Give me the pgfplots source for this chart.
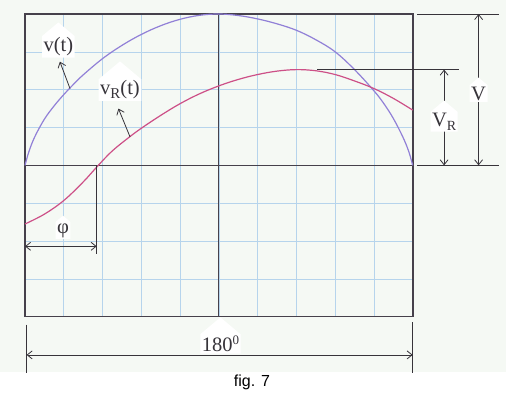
\documentclass[border=0pt]{standalone}
\usepackage{pgfplots}
\pgfplotsset{compat=1.18}
\usepackage{fontspec}
\setmainfont{Liberation Serif}
\newfontfamily\arial{Liberation Sans}
\usetikzlibrary{arrows.meta,shapes.symbols}
\definecolor{paper}{RGB}{245,249,244}
\definecolor{gridblue}{RGB}{182,212,236}
\definecolor{frame}{RGB}{70,65,75}
\definecolor{vcol}{RGB}{145,128,215}
\definecolor{rcol}{RGB}{205,80,135}
\definecolor{ink}{RGB}{55,52,58}
\begin{document}
\begin{tikzpicture}[
  lab/.style={signal, signal to=north, signal pointer angle=100, fill=white, inner sep=1.5pt, text=ink, font=\fontsize{20.5}{20.5}\selectfont},
  dim/.style={ink, line width=0.8pt},
  arr/.style={ink, line width=0.8pt, arrows={Straight Barb[length=5pt,width=8pt]-Straight Barb[length=5pt,width=8pt]}}]
\path[use as bounding box] (0pt,0pt) rectangle (506pt,395pt);
\fill[paper] (0pt,23pt) rectangle (506pt,395pt);
\begin{axis}[at={(25pt,78.3pt)}, anchor=south west, scale only axis,
  width=387.7pt, height=302.7pt,
  xmin=0, xmax=10, ymin=-4, ymax=4,
  xtick={0,1,...,10}, ytick={-4,-3,...,4},
  xticklabels={}, yticklabels={},
  major tick length=0pt,
  grid=major, major grid style={gridblue, line width=0.6pt},
  axis line style={frame, line width=1.6pt},
  clip=false]
\draw[frame, line width=1.1pt] (axis cs:0,0) -- (axis cs:10,0);
\draw[frame, line width=1.1pt] (axis cs:5,-4) -- (axis cs:5,4);
\addplot[vcol, line width=1.2pt, smooth, tension=0.6] coordinates {
 (0,0) (0.1,0.36) (0.25,0.75) (0.5,1.22) (0.75,1.57) (1,1.87) (1.25,2.14) (1.5,2.39)
 (2,2.82) (2.5,3.17) (3,3.46) (3.5,3.69) (4,3.86) (4.5,3.965) (5,4)
 (5.5,3.96) (6,3.87) (6.5,3.74) (7,3.57) (7.5,3.32) (8,3.00) (8.5,2.53)
 (9,1.97) (9.25,1.64) (9.5,1.24) (9.75,0.74) (9.9,0.36) (10,0)};
\addplot[rcol, line width=1.2pt, smooth, tension=0.6] coordinates {
 (0,-1.55) (0.5,-1.29) (1.0,-0.93) (1.5,-0.44) (1.89,0) (2.25,0.38) (2.67,0.73)
 (3,0.98) (3.5,1.32) (4,1.63) (4.5,1.89) (5,2.1) (5.5,2.27) (6,2.40) (6.5,2.49)
 (7,2.53) (7.5,2.50) (8,2.40) (8.5,2.23) (9,2.03) (9.5,1.77) (10,1.46)};
% right dimension lines
\draw[dim] (axis cs:10.12,4) -- (axis cs:12.23,4);
\draw[dim] (axis cs:10.12,0) -- (axis cs:12.23,0);
\draw[dim] (axis cs:7.54,2.53) -- (axis cs:11.2,2.53);
\draw[arr] (axis cs:11.70,4) -- (axis cs:11.70,0);
\draw[arr] (axis cs:10.81,2.53) -- (axis cs:10.81,0);
\node[lab] at (axis cs:11.70,1.9) {V};
\node[lab] at (axis cs:10.81,1.15) {V\raisebox{-0.35ex}{\fontsize{14}{14}\selectfont R}};
% phi
\draw[dim] (axis cs:1.85,0) -- (axis cs:1.85,-2.34);
\draw[arr] (axis cs:0,-2.14) -- (axis cs:1.85,-2.14);
\node[lab] at (axis cs:0.98,-1.72) {φ};
% 180 degrees
\draw[dim] (axis cs:0.04,-4.21) -- (axis cs:0.04,-5.48);
\draw[dim] (axis cs:10,-4.15) -- (axis cs:10,-5.48);
\draw[arr] (axis cs:0.04,-5.01) -- (axis cs:10,-5.01);
\node[lab] at (axis cs:5.04,-4.72) {180\raisebox{0.8ex}{\fontsize{13}{13}\selectfont 0}};
% curve labels
\draw[ink, line width=0.8pt, -{Straight Barb[length=5pt,width=8pt]}] (axis cs:1.16,2.03) -- (axis cs:0.90,2.74);
\node[lab] at (axis cs:0.86,3.13) {v(t)};
\draw[ink, line width=0.8pt, -{Straight Barb[length=5pt,width=8pt]}] (axis cs:2.71,0.75) -- (axis cs:2.41,1.50);
\node[lab] at (axis cs:2.45,1.99) {v\raisebox{-0.35ex}{\fontsize{15}{15}\selectfont R}(t)};
\end{axis}
\node[font=\arial\fontsize{16}{16}\selectfont] at (252pt,13pt) {fig. 7};
\end{tikzpicture}
\end{document}
